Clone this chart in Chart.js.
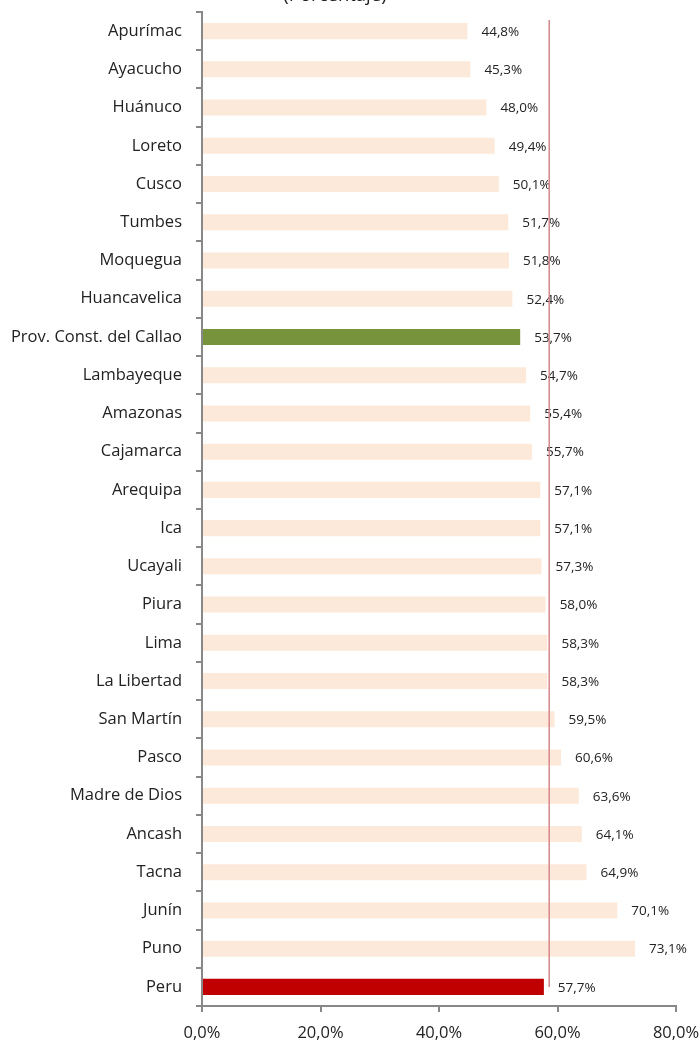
<!DOCTYPE html>
<html>
<head>
<meta charset="utf-8">
<script src="https://cdn.jsdelivr.net/npm/chart.js@4.4.0/dist/chart.umd.min.js"></script>
<style>
  html, body { margin: 0; padding: 0; background: #fff; }
  #wrap { width: 700px; height: 1050px; }
</style>
</head>
<body>
<div id="wrap"><canvas id="regionChart" width="700" height="1050"></canvas></div>
<script>
const regions = ['Apurímac', 'Ayacucho', 'Huánuco', 'Loreto', 'Cusco', 'Tumbes', 'Moquegua',
  'Huancavelica', 'Prov. Const. del Callao', 'Lambayeque', 'Amazonas', 'Cajamarca', 'Arequipa',
  'Ica', 'Ucayali', 'Piura', 'Lima', 'La Libertad', 'San Martín', 'Pasco', 'Madre de Dios',
  'Ancash', 'Tacna', 'Junín', 'Puno', 'Peru'];
const values = [44.8, 45.3, 48.0, 49.4, 50.1, 51.7, 51.8, 52.4, 53.7, 54.7, 55.4, 55.7, 57.1,
  57.1, 57.3, 58.0, 58.3, 58.3, 59.5, 60.6, 63.6, 64.1, 64.9, 70.1, 73.1, 57.7];
const referenceLine = 58.6;
const xTicks = [0, 20, 40, 60, 80];
const titleText = '(Porcentaje)';

const barColors = regions.map(r => {
  if (r === 'Peru') return '#C00000';
  if (r === 'Prov. Const. del Callao') return '#77933C';
  return '#FDE9D9';
});

const fmt = v => v.toFixed(1).replace('.', ',') + '%';

const extras = {
  id: 'extras',
  afterDatasetsDraw(chart) {
    const c = chart.ctx;
    const xs = chart.scales.x, ys = chart.scales.y;
    // value labels
    c.save();
    c.font = '13.5px "Open Sans"';
    c.fillStyle = '#222';
    c.textBaseline = 'middle';
    c.textAlign = 'left';
    values.forEach((v, i) => {
      c.fillText(fmt(v), xs.getPixelForValue(v) + 14, ys.getPixelForValue(i) + 1);
    });
    // reference line
    const lx = xs.getPixelForValue(referenceLine);
    c.strokeStyle = '#D4868A';
    c.lineWidth = 1.5;
    c.beginPath();
    c.moveTo(lx, ys.getPixelForValue(0) - 11);
    c.lineTo(lx, ys.getPixelForValue(values.length - 1));
    c.stroke();
    // cut-off title
    c.font = '18.5px "Open Sans"';
    c.textAlign = 'center';
    c.textBaseline = 'alphabetic';
    c.fillText(titleText, 335, 1);
    c.restore();
  }
};

new Chart(document.getElementById('regionChart').getContext('2d'), {
  type: 'bar',
  data: {
    labels: regions,
    datasets: [{
      data: values,
      backgroundColor: barColors,
      borderWidth: 0,
      categoryPercentage: 1,
      barPercentage: 0.42
    }]
  },
  options: {
    indexAxis: 'y',
    responsive: false,
    animation: false,
    layout: { padding: { top: 12, right: 24, left: 0, bottom: 0 } },
    plugins: { legend: { display: false }, tooltip: { enabled: false } },
    scales: {
      x: {
        min: 0,
        max: 80,
        afterBuildTicks: s => { s.ticks = xTicks.map(v => ({ value: v })); },
        afterFit: s => { s.height = 44; s.paddingLeft = 0; s.paddingRight = 0; },
        ticks: {
          callback: v => v.toFixed(1).replace('.', ',') + '%',
          font: { family: 'Open Sans', size: 16.5 },
          color: '#222',
          padding: 11,
          maxRotation: 0
        },
        grid: { drawOnChartArea: false, tickLength: 6, color: '#888', lineWidth: 2 },
        border: { color: '#888', width: 2 }
      },
      y: {
        afterFit: s => { s.width = 202; s.paddingTop = 0; s.paddingBottom = 0; },
        ticks: {
          font: { family: 'Open Sans', size: 16.5 },
          color: '#222',
          padding: 14,
          autoSkip: false
        },
        grid: { offset: true, drawOnChartArea: false, tickLength: 6, color: '#888', lineWidth: 2 },
        border: { color: '#888', width: 2 }
      }
    }
  },
  plugins: [extras]
});
</script>
</body>
</html>
